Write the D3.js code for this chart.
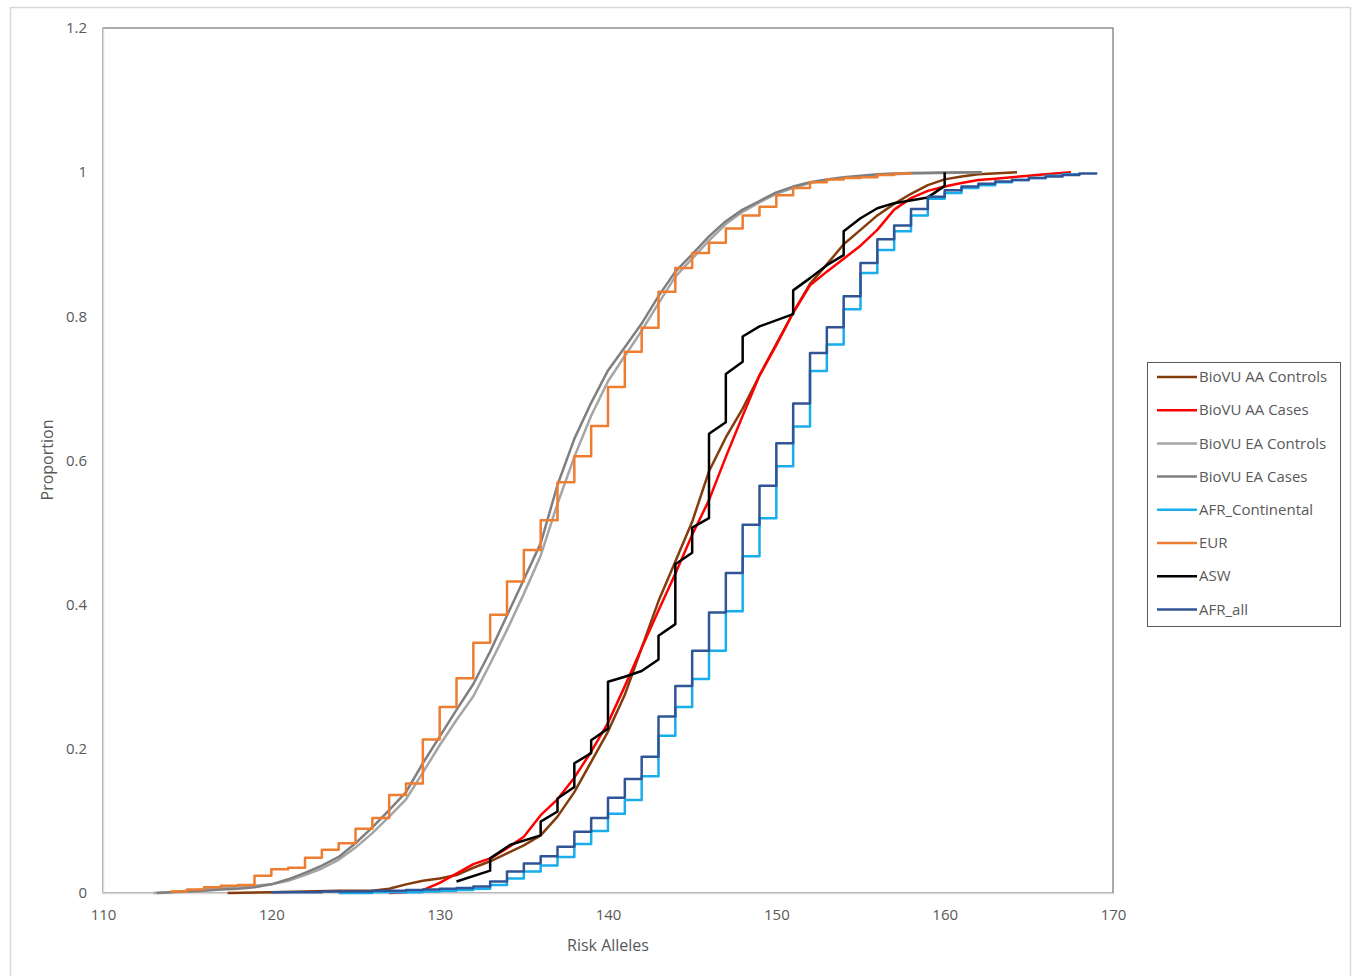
<!DOCTYPE html>
<html>
<head>
<meta charset="utf-8">
<script src="https://cdn.jsdelivr.net/npm/d3@7"></script>
<style>
  body { margin: 0; background: #fff; }
  svg text { font-family: "Open Sans", "Noto Sans", sans-serif; fill: #595959; }
</style>
</head>
<body>
<div id="chart"></div>
<script>
// tick labels
var xTicks = [110, 120, 130, 140, 150, 160, 170];
var yTicks = [0, 0.2, 0.4, 0.6, 0.8, 1, 1.2];

// BioVU AA Controls
var aaControlsX = [117.4, 120, 122, 124, 126, 127, 128, 129, 130, 131, 132, 133, 134, 135, 136, 137, 138, 139, 140, 141, 142, 143, 144, 145, 146, 147, 148, 149, 150, 151, 152, 153, 154, 155, 156, 157, 158, 159, 160, 161, 162, 164.3];
var aaControlsY = [0, 0.001, 0.002, 0.003, 0.003, 0.006, 0.012, 0.017, 0.020, 0.025, 0.035, 0.044, 0.055, 0.066, 0.080, 0.106, 0.140, 0.182, 0.224, 0.275, 0.340, 0.405, 0.460, 0.515, 0.585, 0.632, 0.672, 0.718, 0.762, 0.805, 0.845, 0.872, 0.900, 0.920, 0.940, 0.956, 0.970, 0.982, 0.990, 0.994, 0.997, 1.0];

// BioVU AA Cases
var aaCasesX = [127, 128, 129, 130, 131, 132, 133, 134, 135, 136, 137, 138, 139, 140, 141, 142, 143, 144, 145, 146, 147, 148, 149, 150, 151, 152, 153, 154, 155, 156, 157, 158, 159, 160, 161, 162, 163, 164, 165, 166, 167.5];
var aaCasesY = [0, 0.001, 0.004, 0.014, 0.027, 0.040, 0.048, 0.062, 0.078, 0.108, 0.130, 0.160, 0.196, 0.236, 0.287, 0.340, 0.392, 0.443, 0.497, 0.545, 0.605, 0.662, 0.718, 0.760, 0.805, 0.843, 0.862, 0.880, 0.898, 0.920, 0.948, 0.964, 0.974, 0.980, 0.985, 0.989, 0.991, 0.993, 0.995, 0.997, 1.0];

// BioVU EA Controls
var eaControlsX = [113, 114, 115, 116, 117, 118, 119, 120, 121, 122, 123, 124, 125, 126, 127, 128, 129, 130, 131, 132, 133, 134, 135, 136, 137, 138, 139, 140, 141, 142, 143, 144, 145, 146, 147, 148, 149, 150, 151, 152, 153, 154, 155, 156, 157, 158, 160, 162.2];
var eaControlsY = [0, 0.001, 0.003, 0.005, 0.007, 0.009, 0.010, 0.012, 0.017, 0.025, 0.034, 0.046, 0.063, 0.083, 0.106, 0.130, 0.167, 0.205, 0.240, 0.273, 0.318, 0.365, 0.415, 0.468, 0.540, 0.605, 0.662, 0.710, 0.745, 0.780, 0.818, 0.855, 0.880, 0.905, 0.928, 0.945, 0.958, 0.970, 0.978, 0.985, 0.989, 0.992, 0.994, 0.996, 0.997, 0.998, 0.999, 1.0];

// BioVU EA Cases
var eaCasesX = [113.2, 114, 115, 116, 117, 118, 119, 120, 121, 122, 123, 124, 125, 126, 127, 128, 129, 130, 131, 132, 133, 134, 135, 136, 137, 138, 139, 140, 141, 142, 143, 144, 145, 146, 147, 148, 149, 150, 151, 152, 153, 154, 155, 156, 157, 158, 160, 162.2];
var eaCasesY = [0, 0.001, 0.002, 0.003, 0.005, 0.006, 0.008, 0.012, 0.019, 0.028, 0.038, 0.050, 0.069, 0.091, 0.115, 0.140, 0.180, 0.217, 0.254, 0.290, 0.335, 0.385, 0.435, 0.485, 0.566, 0.630, 0.680, 0.725, 0.757, 0.790, 0.828, 0.862, 0.886, 0.911, 0.932, 0.948, 0.960, 0.972, 0.980, 0.986, 0.990, 0.993, 0.995, 0.997, 0.998, 0.999, 0.9995, 1.0];

// AFR_Continental (stepped)
var afrContX = [124, 125, 126, 127, 128, 129, 130, 131, 132, 133, 134, 135, 136, 137, 138, 139, 140, 141, 142, 143, 144, 145, 146, 147, 148, 149, 150, 151, 152, 153, 154, 155, 156, 157, 158, 159, 160, 161, 162, 163, 164, 165, 166, 167, 168];
var afrContY = [0, 0, 0.001, 0.001, 0.001, 0.002, 0.003, 0.004, 0.006, 0.011, 0.020, 0.030, 0.038, 0.050, 0.068, 0.086, 0.110, 0.129, 0.162, 0.218, 0.258, 0.297, 0.336, 0.391, 0.467, 0.520, 0.592, 0.647, 0.724, 0.761, 0.810, 0.860, 0.892, 0.918, 0.940, 0.963, 0.971, 0.978, 0.982, 0.986, 0.989, 0.992, 0.995, 0.997, 0.999];

// EUR (stepped)
var eurX = [114, 115, 116, 117, 118, 119, 120, 121, 122, 123, 124, 125, 126, 127, 128, 129, 130, 131, 132, 133, 134, 135, 136, 137, 138, 139, 140, 141, 142, 143, 144, 145, 146, 147, 148, 149, 150, 151, 152, 153, 154, 155, 156, 157, 158];
var eurY = [0.002, 0.005, 0.008, 0.010, 0.011, 0.024, 0.033, 0.035, 0.049, 0.060, 0.069, 0.089, 0.104, 0.136, 0.152, 0.213, 0.258, 0.298, 0.347, 0.386, 0.432, 0.476, 0.517, 0.570, 0.606, 0.648, 0.702, 0.751, 0.784, 0.834, 0.867, 0.888, 0.902, 0.922, 0.940, 0.952, 0.968, 0.978, 0.986, 0.990, 0.992, 0.993, 0.996, 0.998, 0.999];

// ASW
var aswX = [131, 133, 133, 134.2, 136, 136, 137, 137, 138, 138, 139, 139, 140, 140, 141, 142, 143, 143, 144, 144, 145, 145, 146, 146, 147, 147, 148, 148, 149, 151, 151, 152, 153, 154, 154, 155, 156, 157, 159, 160, 160];
var aswY = [0.016, 0.031, 0.048, 0.067, 0.080, 0.099, 0.113, 0.131, 0.147, 0.180, 0.194, 0.212, 0.228, 0.293, 0.300, 0.308, 0.324, 0.357, 0.373, 0.456, 0.472, 0.507, 0.520, 0.637, 0.653, 0.720, 0.737, 0.772, 0.786, 0.803, 0.836, 0.853, 0.871, 0.885, 0.918, 0.936, 0.950, 0.957, 0.965, 0.981, 1.0];

// AFR_all (stepped)
var afrAllX = [120, 121, 122, 123, 124, 125, 126, 127, 128, 129, 130, 131, 132, 133, 134, 135, 136, 137, 138, 139, 140, 141, 142, 143, 144, 145, 146, 147, 148, 149, 150, 151, 152, 153, 154, 155, 156, 157, 158, 159, 160, 161, 162, 163, 164, 165, 166, 167, 168, 169];
var afrAllY = [0.001, 0.001, 0.001, 0.002, 0.002, 0.002, 0.003, 0.003, 0.004, 0.005, 0.006, 0.007, 0.009, 0.016, 0.030, 0.041, 0.051, 0.064, 0.085, 0.104, 0.132, 0.158, 0.189, 0.245, 0.287, 0.336, 0.389, 0.444, 0.511, 0.565, 0.624, 0.679, 0.749, 0.785, 0.828, 0.874, 0.907, 0.926, 0.949, 0.966, 0.975, 0.980, 0.984, 0.987, 0.989, 0.992, 0.994, 0.996, 0.998, 1.0];

var seriesNames = ['BioVU AA Controls', 'BioVU AA Cases', 'BioVU EA Controls', 'BioVU EA Cases', 'AFR_Continental', 'EUR', 'ASW', 'AFR_all'];
var seriesColors = ['#843C0C', '#FF0000', '#A5A5A5', '#7F7F7F', '#18AEEC', '#ED7D31', '#000000', '#2F5597'];

var width = 1354, height = 976;
var margin = { left: 103, right: 1113, top: 28, bottom: 893 };

var svg = d3.select('#chart')
  .append('svg')
  .attr('width', width)
  .attr('height', height);

// outer chart border
svg.append('rect')
  .attr('x', 10.5)
  .attr('y', 7.5)
  .attr('width', 1340)
  .attr('height', 990)
  .attr('fill', 'none')
  .attr('stroke', '#D9D9D9')
  .attr('stroke-width', 1.5);

var x = d3.scaleLinear().domain([110, 170]).range([margin.left, margin.right]);
var y = d3.scaleLinear().domain([0, 1.2]).range([margin.bottom, margin.top]);

// plot area frame
svg.append('rect')
  .attr('x', margin.left)
  .attr('y', margin.top)
  .attr('width', margin.right - margin.left)
  .attr('height', margin.bottom - margin.top)
  .attr('fill', 'none')
  .attr('stroke', '#595959')
  .attr('stroke-width', 1);

var xAxis = svg.append('g')
  .attr('transform', 'translate(0,' + margin.bottom + ')')
  .call(d3.axisBottom(x).tickValues(xTicks).tickSize(0).tickPadding(16).tickFormat(d3.format('d')));
var yAxis = svg.append('g')
  .attr('transform', 'translate(' + margin.left + ',0)')
  .call(d3.axisLeft(y).tickValues(yTicks).tickSize(0).tickPadding(16).tickFormat(function(d) { return String(+d.toFixed(1)); }));

[xAxis, yAxis].forEach(function(a) {
  a.select('.domain').attr('stroke', '#D9D9D9').attr('stroke-width', 1.5);
  a.selectAll('text').attr('font-size', 15).style('fill', '#595959');
});

svg.append('text')
  .attr('x', 608)
  .attr('y', 951)
  .attr('text-anchor', 'middle')
  .attr('font-size', 16)
  .text('Risk Alleles');

svg.append('text')
  .attr('transform', 'translate(53,460) rotate(-90)')
  .attr('text-anchor', 'middle')
  .attr('font-size', 16)
  .text('Proportion');

var plain = d3.line()
  .x(function(d) { return x(d[0]); })
  .y(function(d) { return y(d[1]); });
var stepped = d3.line()
  .x(function(d) { return x(d[0]); })
  .y(function(d) { return y(d[1]); })
  .curve(d3.curveStepAfter);

function pairs(xs, ys) {
  return xs.map(function(v, i) { return [v, ys[i]]; });
}

var series = [
  { pts: pairs(aaControlsX, aaControlsY), gen: plain },
  { pts: pairs(aaCasesX, aaCasesY), gen: plain },
  { pts: pairs(eaControlsX, eaControlsY), gen: plain },
  { pts: pairs(eaCasesX, eaCasesY), gen: plain },
  { pts: pairs(afrContX, afrContY), gen: stepped },
  { pts: pairs(eurX, eurY), gen: stepped },
  { pts: pairs(aswX, aswY), gen: plain },
  { pts: pairs(afrAllX, afrAllY), gen: stepped }
];

series.forEach(function(s, i) {
  svg.append('path')
    .attr('d', s.gen(s.pts))
    .attr('fill', 'none')
    .attr('stroke', seriesColors[i])
    .attr('stroke-width', 2.5)
    .attr('stroke-linejoin', 'round');
});

// legend
var legend = svg.append('g').attr('transform', 'translate(1147,362)');
legend.append('rect')
  .attr('x', 0.5)
  .attr('y', 0.5)
  .attr('width', 193)
  .attr('height', 264)
  .attr('fill', '#fff')
  .attr('stroke', '#595959')
  .attr('stroke-width', 1);

var rows = legend.selectAll('g.row')
  .data(seriesNames)
  .enter()
  .append('g')
  .attr('class', 'row')
  .attr('transform', function(d, i) { return 'translate(0,' + (15 + i * 33.2) + ')'; });

rows.append('line')
  .attr('x1', 10)
  .attr('x2', 50)
  .attr('stroke', function(d, i) { return seriesColors[i]; })
  .attr('stroke-width', 2.5);

rows.append('text')
  .attr('x', 52)
  .attr('dy', '0.35em')
  .attr('font-size', 15)
  .text(function(d) { return d; });
</script>
</body>
</html>
